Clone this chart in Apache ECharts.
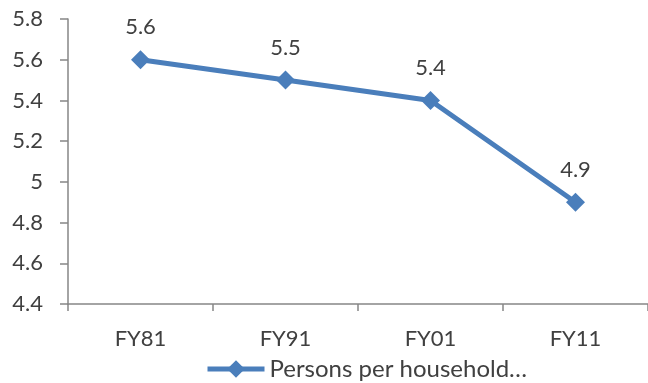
<!DOCTYPE html>
<html>
<head>
<meta charset="utf-8">
<script src="https://cdn.jsdelivr.net/npm/echarts@6/dist/echarts.min.js"></script>
<style>
  html, body { margin: 0; padding: 0; background: #fff; }
  #chart { width: 648px; height: 383px; }
</style>
</head>
<body>
<div id="chart"></div>
<script>
// Average household size by fiscal year
const categories = ['FY81', 'FY91', 'FY01', 'FY11'];
const personsPerHousehold = [5.6, 5.5, 5.4, 4.9];
const seriesName = 'Persons per household…';

const FONT = 'Lato, "Liberation Sans", sans-serif';
const TEXT = '#404040';
const AXIS = '#868686';
const BLUE = '#4A7EBB';

const chart = echarts.init(document.getElementById('chart'));
chart.setOption({
  animation: false,
  grid: { left: 68, right: -3, top: 19, bottom: 79, containLabel: false },
  legend: {
    top: 352,
    left: 200,
    itemWidth: 57,
    itemHeight: 22,
    itemGap: 4,
    lineStyle: { width: 5 },
    textStyle: { fontFamily: FONT, fontSize: 24, color: TEXT },
    data: [{ name: seriesName }]
  },
  xAxis: {
    type: 'category',
    data: categories,
    boundaryGap: true,
    axisLine: { lineStyle: { color: AXIS, width: 1.5 } },
    axisTick: { show: true, length: 7, lineStyle: { color: AXIS, width: 1.5 } },
    axisLabel: { margin: 24, fontFamily: FONT, fontSize: 22, color: TEXT },
    splitLine: { show: false }
  },
  yAxis: {
    type: 'value',
    min: 4.4,
    max: 5.8,
    interval: 0.2,
    axisLine: { show: true, lineStyle: { color: AXIS, width: 1.5 } },
    axisTick: { show: true, length: 8, lineStyle: { color: AXIS, width: 1.5 } },
    axisLabel: {
      margin: 25,
      fontFamily: FONT,
      fontSize: 22,
      color: TEXT,
      formatter: v => String(Math.round(v * 10) / 10)
    },
    splitLine: { show: false }
  },
  series: [{
    name: seriesName,
    type: 'line',
    data: personsPerHousehold,
    symbol: 'diamond',
    symbolSize: 19,
    lineStyle: { color: BLUE, width: 5 },
    itemStyle: { color: BLUE },
    label: {
      show: true,
      position: 'top',
      distance: 12,
      fontFamily: FONT,
      fontSize: 22,
      color: TEXT,
      formatter: p => p.value.toFixed(1)
    }
  }]
});
</script>
</body>
</html>
